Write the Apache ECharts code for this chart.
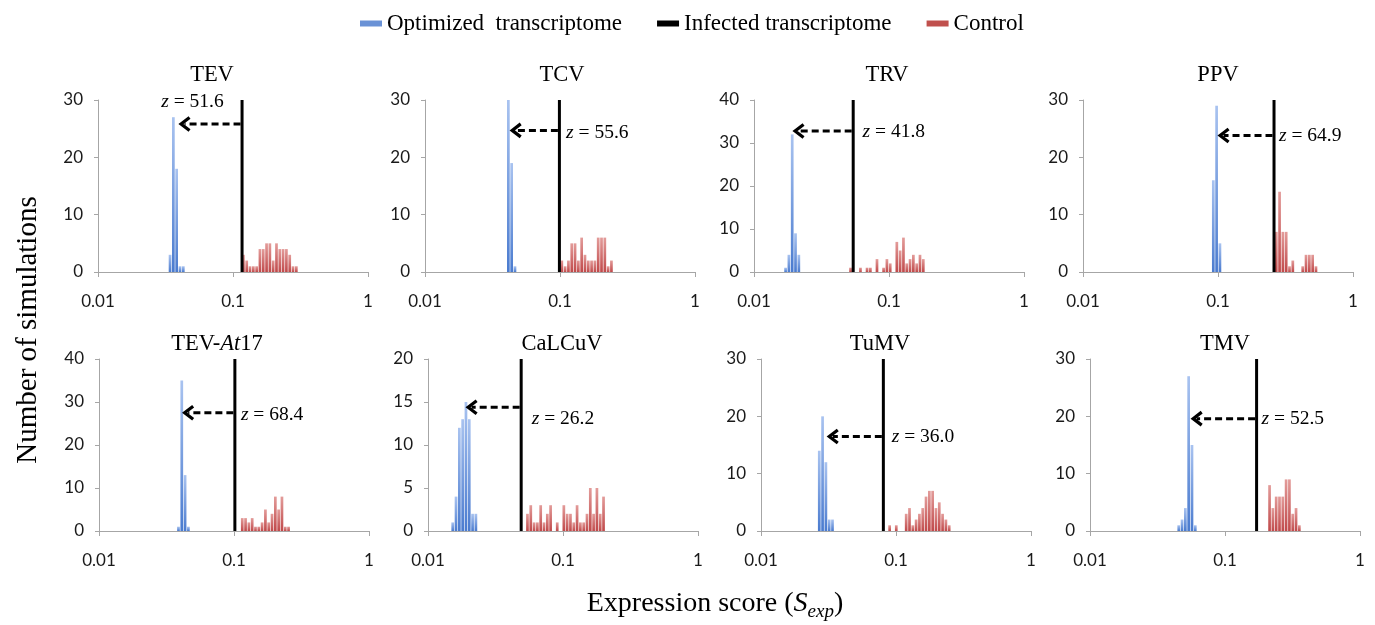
<!DOCTYPE html>
<html>
<head>
<meta charset="utf-8">
<script src="https://cdn.jsdelivr.net/npm/echarts@6/dist/echarts.min.js"></script>
<style>
html, body { margin: 0; padding: 0; background: #fff; }
#chart { width: 1375px; height: 625px; }
</style>
</head>
<body>
<div id="chart"></div>
<script>
// panels, left to right, top to bottom
const panelNames = ['TEV', 'TCV', 'TRV', 'PPV', 'TEV-At17', 'CaLCuV', 'TuMV', 'TMV'];
const yMax = [30, 30, 40, 30, 40, 20, 30, 30];
const yStep = [10, 10, 10, 10, 10, 5, 10, 10];
const binWidth = 0.0245; // histogram bin width, log10 units

// optimized transcriptome histograms (first bin lower edge + counts)
const optimizedStart = [0.0334, 0.0405, 0.01675, 0.0902, 0.0379, 0.0149, 0.0264, 0.0444];
const optimizedCounts = [
  [3, 27, 18, 1, 1],
  [30, 19, 1],
  [1, 4, 32, 9, 4],
  [16, 29, 5],
  [1, 35, 13, 1],
  [1, 4, 12, 13, 15, 13, 2, 2],
  [14, 20, 12, 2, 2],
  [1, 2, 4, 27, 15, 1]
];

// control histograms
const controlStart = [0.1167, 0.1008, 0.0507, 0.264, 0.1125, 0.0533, 0.0877, 0.209];
const controlCounts = [
  [3, 2, 1, 1, 1, 4, 4, 5, 5, 2, 5, 4, 4, 4, 3, 1, 1],
  [2, 1, 2, 5, 5, 2, 6, 3, 2, 2, 2, 6, 6, 6, 1, 2],
  [1, 0, 0, 1, 0, 1, 1, 0, 3, 0, 1, 3, 2, 0, 7, 5, 8, 2, 3, 4, 2, 4, 3],
  [7, 14, 7, 7, 1, 2, 0, 0, 1, 3, 3, 3, 1],
  [3, 3, 2, 3, 1, 1, 2, 5, 2, 4, 8, 5, 8, 1, 1],
  [2, 3, 1, 1, 3, 1, 2, 3, 0, 1, 0, 3, 2, 2, 1, 3, 1, 1, 2, 5, 2, 5, 2, 4],
  [1, 0, 1, 0, 0, 3, 4, 1, 2, 3, 4, 6, 7, 7, 4, 5, 3, 2, 1],
  [8, 4, 6, 6, 6, 9, 9, 3, 4, 1]
];

// infected transcriptome score, arrow and z annotation
const infectedScore = [0.1167, 0.099, 0.0543, 0.26, 0.1015, 0.049, 0.0806, 0.1714];
const arrowTip = [0.0395, 0.0424, 0.0193, 0.0993, 0.0413, 0.019, 0.0307, 0.0557];
const arrowLevel = [25.8, 24.7, 32.8, 23.8, 27.5, 14.4, 16.5, 19.6];
const zScores = ['51.6', '55.6', '41.8', '64.9', '68.4', '26.2', '36.0', '52.5'];
const zLabelX = [0.0294, 0.111, 0.0637, 0.283, 0.1125, 0.0587, 0.0929, 0.1866];
const zLabelY = [29.6, 24.2, 32.7, 23.7, 27, 13, 16.5, 19.6];

const OPT = 'Optimized  transcriptome';
const INF = 'Infected transcriptome';
const CTRL = 'Control';
const serif = 'Liberation Serif';
const sans = 'Lato';

const gridLeft = [98, 425, 754, 1083, 99, 428, 761, 1090];
const titleX = [212, 562, 887, 1218, 217, 562, 880, 1225];

function bins(start, counts) {
  const lo0 = Math.log10(start);
  return counts.map((c, k) => {
    const lo = lo0 + k * binWidth;
    return [Math.pow(10, lo), Math.pow(10, lo + binWidth), c];
  });
}

function barRenderer(light, dark) {
  return function (params, api) {
    const c = api.value(2);
    if (!c) return null;
    const p0 = api.coord([api.value(0), 0]);
    const p1 = api.coord([api.value(1), c]);
    return {
      type: 'rect',
      shape: { x: p0[0], y: p1[1], width: Math.max(p1[0] - p0[0] - 0.6, 1), height: p0[1] - p1[1] },
      style: {
        fill: new echarts.graphic.LinearGradient(0, 0, 0, 1, [
          { offset: 0, color: light },
          { offset: 1, color: dark }
        ])
      }
    };
  };
}

let grids = [], xAxes = [], yAxes = [], series = [], graphics = [];

panelNames.forEach((name, i) => {
  const row = i < 4 ? 0 : 1;
  grids.push({ left: gridLeft[i], top: row ? 359 : 100, width: 270, height: 172 });
  xAxes.push({
    type: 'log', logBase: 10, min: 0.01, max: 1, gridIndex: i,
    axisLine: { lineStyle: { color: '#a6a6a6', width: 1 } },
    axisTick: { show: true, length: 5, lineStyle: { color: '#a6a6a6' } },
    minorTick: { show: false },
    splitLine: { show: false },
    axisLabel: {
      color: '#1a1a1a', fontFamily: sans, fontSize: 17, margin: 21,
      formatter: v => String(+(+v).toPrecision(3))
    }
  });
  yAxes.push({
    type: 'value', min: 0, max: yMax[i], interval: yStep[i], gridIndex: i,
    axisLine: { show: true, lineStyle: { color: '#a6a6a6', width: 1 } },
    axisTick: { show: true, length: 4, lineStyle: { color: '#a6a6a6' } },
    splitLine: { show: false },
    axisLabel: { color: '#1a1a1a', fontFamily: sans, fontSize: 17, margin: 15 }
  });

  series.push({
    name: OPT, type: 'custom', xAxisIndex: i, yAxisIndex: i,
    itemStyle: { color: '#6a92d6' },
    encode: { x: [0, 1], y: 2 },
    data: bins(optimizedStart[i], optimizedCounts[i]),
    renderItem: barRenderer('#a9c3f0', '#4a7bcf')
  });
  series.push({
    name: CTRL, type: 'custom', xAxisIndex: i, yAxisIndex: i,
    itemStyle: { color: '#c0504d' },
    encode: { x: [0, 1], y: 2 },
    data: bins(controlStart[i], controlCounts[i]),
    renderItem: barRenderer('#e39c9a', '#c0494a')
  });
  series.push({
    name: INF, type: 'custom', xAxisIndex: i, yAxisIndex: i,
    itemStyle: { color: '#000' },
    encode: { x: 0, y: 1 },
    data: [[infectedScore[i], yMax[i]]],
    renderItem: function (params, api) {
      const a = api.coord([api.value(0), 0]);
      const b = api.coord([api.value(0), api.value(1)]);
      return { type: 'line', shape: { x1: a[0], y1: a[1], x2: b[0], y2: b[1] }, style: { stroke: '#000', lineWidth: 3 } };
    }
  });
  series.push({
    name: 'arrow' + i, type: 'custom', xAxisIndex: i, yAxisIndex: i,
    encode: { x: [0, 1], y: 2 },
    data: [[infectedScore[i], arrowTip[i], arrowLevel[i], zLabelX[i], zLabelY[i]]],
    renderItem: function (params, api) {
      const from = api.coord([api.value(0), api.value(2)]);
      const tip = api.coord([api.value(1), api.value(2)]);
      const lab = api.coord([api.value(3), api.value(4)]);
      const y = tip[1], tx = tip[0] + 1;
      return {
        type: 'group',
        children: [
          { type: 'line', shape: { x1: from[0] - 1.5, y1: y, x2: tx + 5, y2: y },
            style: { stroke: '#000', lineWidth: 3, lineDash: [7, 4] } },
          { type: 'polyline', shape: { points: [[tx + 10, y - 6.5], [tx + 1.5, y], [tx + 10, y + 6.5]] },
            style: { stroke: '#000', lineWidth: 3.2, fill: null } },
          { type: 'text', x: lab[0], y: lab[1],
            style: {
              text: '{i|z} = ' + zScores[i], fontFamily: serif, fontSize: 19.5, fill: '#000',
              align: 'left', verticalAlign: 'middle',
              rich: { i: { fontFamily: serif, fontSize: 19.5, fontStyle: 'italic', fill: '#000' } }
            } }
        ]
      };
    }
  });

  const titleText = name === 'TEV-At17' ? '{n|TEV-}{i|At}{n|17}' : '{n|' + name + '}';
  graphics.push({
    type: 'text', x: titleX[i], y: row ? 344 : 75,
    style: {
      text: titleText, align: 'center', verticalAlign: 'middle',
      rich: {
        n: { fontFamily: serif, fontSize: 22.5, fill: '#000' },
        i: { fontFamily: serif, fontSize: 22.5, fontStyle: 'italic', fill: '#000' }
      }
    }
  });
});

// axis titles
graphics.push({
  type: 'text', x: 28, y: 330, rotation: Math.PI / 2,
  style: { text: 'Number of simulations', fontFamily: serif, fontSize: 29, fill: '#000', align: 'center', verticalAlign: 'middle' }
});
const ctx = document.createElement('canvas').getContext('2d');
function tw(t, font) { ctx.font = font; return ctx.measureText(t).width; }
const fMain = '28px "' + serif + '"', fIt = 'italic 28px "' + serif + '"', fSub = 'italic 19px "' + serif + '"';
const parts = [
  ['Expression score (', fMain, 0],
  ['S', fIt, 0],
  ['exp', fSub, 8],
  [')', fMain, 0]
];
let total = parts.reduce((s, p) => s + tw(p[0], p[1]), 0);
let cx = 715 - total / 2;
parts.forEach(p => {
  graphics.push({
    type: 'text', x: cx, y: 604 + p[2],
    style: { text: p[0], font: p[1], fill: '#000', align: 'left', verticalAlign: 'middle' }
  });
  cx += tw(p[0], p[1]);
});

const chart = echarts.init(document.getElementById('chart'));
chart.setOption({
  animation: false,
  backgroundColor: '#fff',
  legend: {
    data: [OPT, INF, CTRL],
    left: 355, top: 7,
    icon: 'rect', itemWidth: 22, itemHeight: 6, itemGap: 35,
    textStyle: { fontFamily: serif, fontSize: 23, color: '#000' }
  },
  grid: grids,
  xAxis: xAxes,
  yAxis: yAxes,
  series: series,
  graphic: graphics
});
</script>
</body>
</html>
